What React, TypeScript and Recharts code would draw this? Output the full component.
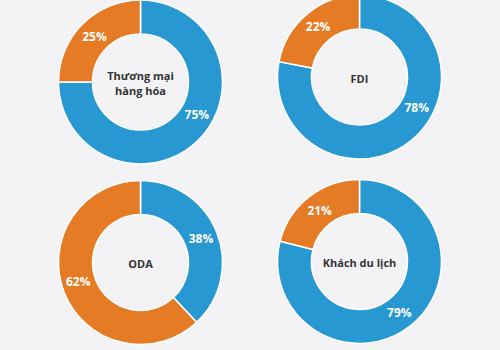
import React from "react";
import { PieChart, Pie, Cell } from "recharts";

const categories = ["Thương mại hàng hóa", "FDI", "ODA", "Khách du lịch"];
const centerLines = [["Thương mại", "hàng hóa"], ["FDI"], ["ODA"], ["Khách du lịch"]];
const blueValues = [75, 78, 38, 79];
const orangeValues = [25, 22, 62, 21];

const BLUE = "#2898d3";
const ORANGE = "#e57b25";
const BG = "#f3f3f5";
const FONT = "'Open Sans', 'Noto Sans', sans-serif";

// layout (not data)
const panels = [
  { cx: 140.5, cy: 82, shift: [15, 0] },
  { cx: 359.5, cy: 77, shift: [22, 0] },
  { cx: 140.5, cy: 262.5, shift: [0, -5] },
  { cx: 359.5, cy: 261.5, shift: [0, 0] },
];

const RAD = Math.PI / 180;

const makeLabel = (shift: number[]) => (props: any) => {
  const { cx, cy, midAngle, innerRadius, outerRadius, value, index } = props;
  const ang = (midAngle + (shift[index] || 0)) * RAD;
  const r = (innerRadius + outerRadius) / 2;
  const x = cx + r * Math.cos(ang);
  const y = cy - r * Math.sin(ang);
  return (
    <text
      x={x}
      y={y}
      fill="#ffffff"
      textAnchor="middle"
      dominantBaseline="central"
      style={{ fontFamily: FONT, fontWeight: 700, fontSize: 12 }}
    >
      {value}%
    </text>
  );
};

export default function App() {
  return (
    <div style={{ position: "absolute", left: 0, top: 0, width: 500, height: 350, background: BG }}>
      <PieChart width={500} height={350} margin={{ top: 0, right: 0, bottom: 0, left: 0 }}>
        {categories.map((cat, i) => {
          const data = [
            { name: "blue", value: blueValues[i] },
            { name: "orange", value: orangeValues[i] },
          ];
          const p = panels[i];
          return (
            <Pie
              key={cat}
              data={data}
              dataKey="value"
              cx={p.cx}
              cy={p.cy}
              innerRadius={48}
              outerRadius={82}
              startAngle={90}
              endAngle={-270}
              stroke="#ffffff"
              strokeWidth={1.5}
              label={makeLabel(p.shift)}
              labelLine={false}
              isAnimationActive={false}
            >
              <Cell fill={BLUE} />
              <Cell fill={ORANGE} />
            </Pie>
          );
        })}
        {categories.map((cat, i) => {
          const p = panels[i];
          const lines = centerLines[i];
          const lh = 15;
          const y0 = p.cy + 1 - ((lines.length - 1) * lh) / 2;
          return (
            <text
              key={"c" + cat}
              x={p.cx}
              textAnchor="middle"
              fill="#333333"
              style={{ fontFamily: FONT, fontWeight: 700, fontSize: 11 }}
            >
              {lines.map((l, j) => (
                <tspan key={j} x={p.cx} y={y0 + j * lh} dominantBaseline="central">
                  {l}
                </tspan>
              ))}
            </text>
          );
        })}
      </PieChart>
    </div>
  );
}
